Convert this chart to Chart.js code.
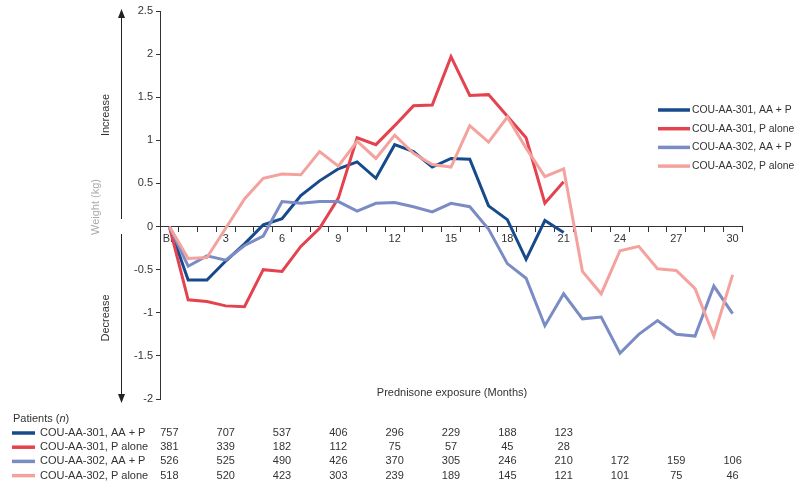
<!DOCTYPE html>
<html>
<head>
<meta charset="utf-8">
<script src="https://cdn.jsdelivr.net/npm/chart.js@4.4.1/dist/chart.umd.min.js"></script>
<style>
  body { margin: 0; background: #fff; }
  canvas { display: block; }
</style>
</head>
<body>
<canvas id="chart" width="800" height="488"></canvas>
<script>
// months since baseline, 0 = BL
const months = ['BL','1','2','3','4','5','6','7','8','9','10','11','12','13','14','15',
  '16','17','18','19','20','21','22','23','24','25','26','27','28','29','30'];

const seriesNames = ['COU-AA-301, AA + P', 'COU-AA-301, P alone', 'COU-AA-302, AA + P', 'COU-AA-302, P alone'];
const seriesColors = ['#174a8b', '#e5424f', '#7b8cc4', '#f4a29e'];

// mean weight change (kg)
const aa301 = [0, -0.62, -0.62, -0.40, -0.20, 0.02, 0.09, 0.36, 0.53, 0.67, 0.75, 0.56, 0.95, 0.87, 0.69, 0.79,
  0.78, 0.24, 0.08, -0.38, 0.07, -0.07, null, null, null, null, null, null, null, null, null];
const p301 = [0, -0.85, -0.87, -0.92, -0.93, -0.50, -0.52, -0.23, -0.02, 0.33, 1.03, 0.95, 1.17, 1.40, 1.41, 1.97,
  1.52, 1.53, 1.28, 1.03, 0.27, 0.52, null, null, null, null, null, null, null, null, null];
const aa302 = [0, -0.46, -0.34, -0.39, -0.22, -0.11, 0.29, 0.27, 0.29, 0.29, 0.18, 0.27, 0.28, 0.23, 0.17, 0.27,
  0.23, -0.03, -0.43, -0.60, -1.15, -0.78, -1.07, -1.05, -1.47, -1.25, -1.09, -1.25, -1.27, -0.69, -1.01];
const p302 = [0, -0.37, -0.36, -0.02, 0.32, 0.56, 0.61, 0.60, 0.87, 0.70, 0.99, 0.79, 1.06, 0.85, 0.72, 0.69,
  1.17, 0.98, 1.27, 0.91, 0.58, 0.67, -0.52, -0.78, -0.28, -0.23, -0.49, -0.51, -0.72, -1.27, -0.56];

// patients at risk, every 3 months (BL, 3, 6 ... 30)
const riskMonths = [0, 3, 6, 9, 12, 15, 18, 21, 24, 27, 30];
const nAA301 = [757, 707, 537, 406, 296, 229, 188, 123, null, null, null];
const nP301 = [381, 339, 182, 112, 75, 57, 45, 28, null, null, null];
const nAA302 = [526, 525, 490, 426, 370, 305, 246, 210, 172, 159, 106];
const nP302 = [518, 520, 423, 303, 239, 189, 145, 121, 101, 75, 46];

const FONT = '"Liberation Sans", Arial, Helvetica, sans-serif';
const TXT = '#333';

Chart.defaults.font.family = FONT;
Chart.defaults.font.size = 11;
Chart.defaults.color = TXT;

const extras = {
  id: 'extras',
  afterDraw(chart) {
    const ctx = chart.ctx;
    const x = chart.scales.x;
    ctx.save();
    ctx.font = '11px ' + FONT;
    ctx.fillStyle = TXT;

    // x title, sits inside the plot
    ctx.textAlign = 'center';
    ctx.textBaseline = 'middle';
    ctx.fillText('Prednisone exposure (Months)', 452, 393);

    // increase / decrease arrows
    ctx.strokeStyle = '#222';
    ctx.fillStyle = '#222';
    ctx.lineWidth = 1;
    ctx.beginPath();
    ctx.moveTo(121.5, 219); ctx.lineTo(121.5, 16);
    ctx.moveTo(121.5, 234); ctx.lineTo(121.5, 396);
    ctx.stroke();
    ctx.beginPath();
    ctx.moveTo(121.5, 9); ctx.lineTo(118, 18); ctx.lineTo(125, 18); ctx.closePath();
    ctx.moveTo(121.5, 403); ctx.lineTo(118, 394); ctx.lineTo(125, 394); ctx.closePath();
    ctx.fill();

    const vtext = (t, cx, cy, col) => {
      ctx.save();
      ctx.translate(cx, cy);
      ctx.rotate(-Math.PI / 2);
      ctx.fillStyle = col;
      ctx.fillText(t, 0, 0);
      ctx.restore();
    };
    vtext('Increase', 106, 115, TXT);
    vtext('Decrease', 106, 318, TXT);
    vtext('Weight (kg)', 96, 207, '#aaa');

    // legend
    ctx.textAlign = 'left';
    ctx.font = '10.4px ' + FONT;
    seriesNames.forEach((name, i) => {
      const yy = 110 + i * 18.7;
      ctx.strokeStyle = seriesColors[i];
      ctx.lineWidth = 3.5;
      ctx.beginPath();
      ctx.moveTo(658, yy); ctx.lineTo(690, yy);
      ctx.stroke();
      ctx.fillStyle = TXT;
      ctx.fillText(name, 692, yy);
    });

    // patients table
    ctx.font = '11px ' + FONT;
    ctx.fillStyle = TXT;
    ctx.fillText('Patients (', 13, 419);
    let w = ctx.measureText('Patients (').width;
    ctx.font = 'italic 11px ' + FONT;
    ctx.fillText('n', 13 + w, 419);
    w += ctx.measureText('n').width;
    ctx.font = '11px ' + FONT;
    ctx.fillText(')', 13 + w, 419);

    const rows = [nAA301, nP301, nAA302, nP302];
    rows.forEach((vals, i) => {
      const yy = 433 + i * 14.2;
      ctx.strokeStyle = seriesColors[i];
      ctx.lineWidth = 3.5;
      ctx.beginPath();
      ctx.moveTo(12, yy); ctx.lineTo(35, yy);
      ctx.stroke();
      ctx.fillStyle = TXT;
      ctx.textAlign = 'left';
      ctx.fillText(seriesNames[i], 40, yy);
      ctx.textAlign = 'center';
      vals.forEach((v, j) => {
        if (v === null) return;
        ctx.fillText(String(v), x.getPixelForValue(riskMonths[j]), yy);
      });
    });
    ctx.restore();
  }
};

const mk = (label, data, color) => ({
  label: label,
  data: data,
  borderColor: color,
  backgroundColor: color,
  borderWidth: 3,
  pointRadius: 0,
  tension: 0,
  fill: false
});

new Chart(document.getElementById('chart'), {
  type: 'line',
  data: {
    labels: months,
    datasets: [
      mk(seriesNames[3], p302, seriesColors[3]),
      mk(seriesNames[2], aa302, seriesColors[2]),
      mk(seriesNames[1], p301, seriesColors[1]),
      mk(seriesNames[0], aa301, seriesColors[0])
    ]
  },
  options: {
    responsive: false,
    animation: false,
    layout: { padding: { left: 0, right: 58, top: 11, bottom: 89 } },
    plugins: {
      legend: { display: false },
      tooltip: { enabled: false }
    },
    scales: {
      x: {
        type: 'category',
        position: { y: 0 },
        offset: true,
        grid: { drawOnChartArea: false, drawTicks: true, tickLength: 5, offset: true, color: '#333' },
        border: { display: true, color: '#333' },
        ticks: {
          autoSkip: false,
          maxRotation: 0,
          padding: 1,
          color: TXT,
          callback: (v, i) => (i % 3 === 0 ? months[i] : '')
        }
      },
      y: {
        min: -2,
        max: 2.5,
        afterFit: (s) => { s.width = 160; },
        grid: { drawOnChartArea: false, drawTicks: true, tickLength: 4, color: '#333' },
        border: { display: true, color: '#333' },
        ticks: { stepSize: 0.5, padding: 3, color: TXT, callback: (v) => String(v) }
      }
    }
  },
  plugins: [extras]
});
</script>
</body>
</html>
